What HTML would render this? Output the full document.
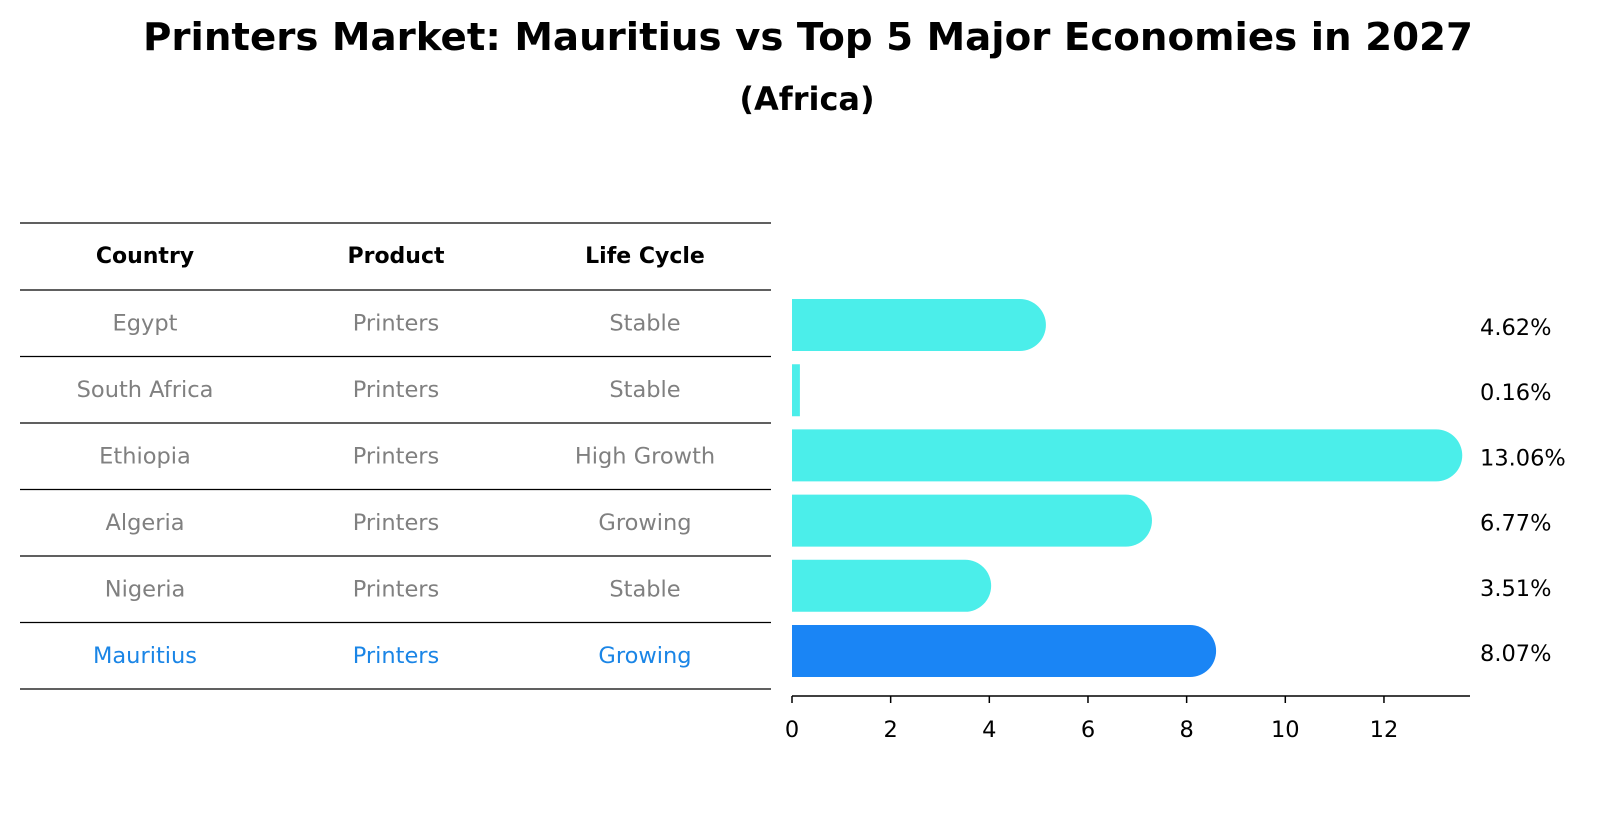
<!DOCTYPE html>
<html><head><meta charset="utf-8"><style>
body{margin:0;background:#fff;}
svg text{font-family:"DejaVu Sans","Liberation Sans",sans-serif;}
</style></head><body>
<svg width="1604" height="823" xmlns="http://www.w3.org/2000/svg">
<text x="808" y="50" text-anchor="middle" font-size="38" font-weight="bold" textLength="1330" lengthAdjust="spacingAndGlyphs">Printers Market: Mauritius vs Top 5 Major Economies in 2027</text>
<text x="807" y="110" text-anchor="middle" font-size="32" font-weight="bold">(Africa)</text>
<g id="table"></g>
<g id="bars"></g>
<g id="axis"></g>
</svg>
<script>
const countries=["Egypt","South Africa","Ethiopia","Algeria","Nigeria","Mauritius"];
const products=["Printers","Printers","Printers","Printers","Printers","Printers"];
const lifecycles=["Stable","Stable","High Growth","Growing","Stable","Growing"];
const values=[4.62,0.16,13.06,6.77,3.51,8.07];
const ticks=[0,2,4,6,8,10,12];
const NS="http://www.w3.org/2000/svg";
const x0=792, pxPerUnit=49.33;
function xs(v){return x0+v*pxPerUnit;}
function ys(i){return 325+i*65.2;}
function mk(tag,attrs,parent,text){const e=document.createElementNS(NS,tag);for(const k in attrs)e.setAttribute(k,attrs[k]);if(text!==undefined)e.textContent=text;parent.appendChild(e);return e;}
const table=document.getElementById('table');
const lineYs=[223,290,356.5,423,489.5,556,622.5,689];
lineYs.forEach((y)=>{const l=mk('line',{x1:20,x2:771,y1:y,y2:y,stroke:'#000','stroke-width':1.2},table);

});
const colX=[145,396,645];
["Country","Product","Life Cycle"].forEach((h,j)=>{const t=mk('text',{x:colX[j],y:263,'text-anchor':'middle','font-size':22,'font-weight':'bold'},table,h);

});
countries.forEach((c,i)=>{const col=i===countries.length-1?'#1a85e6':'#808080';
[c,products[i],lifecycles[i]].forEach((v,j)=>{const t=mk('text',{x:colX[j],y:(lineYs[i+1]+lineYs[i+2])/2+7,'text-anchor':'middle','font-size':22.5,fill:col},table,v);

});});
const bars=document.getElementById('bars');
values.forEach((v,i)=>{const h=52,cy=ys(i),top=cy-h/2,xe=xs(v);const r=(xe-x0)>26?26:0;
const col=i===values.length-1?'#1a85f5':'#4beeea';
const d=r?`M${x0},${top} L${xe},${top} A${r},${h/2} 0 0 1 ${xe},${top+h} L${x0},${top+h} Z`:`M${x0},${top}h${xe-x0}v${h}h${-(xe-x0)}Z`;
const p=mk('path',{d:d,fill:col},bars);


const t=mk('text',{x:1480,y:cy+10,'font-size':22.5},bars,v.toFixed(2)+'%');

});
const axis=document.getElementById('axis');
const al=mk('line',{x1:x0,x2:1470,y1:696,y2:696,stroke:'#000','stroke-width':1.5},axis);


ticks.forEach(t=>{const l=mk('line',{x1:xs(t),x2:xs(t),y1:696,y2:703,stroke:'#000','stroke-width':1.5},axis);


const tx=mk('text',{x:xs(t),y:737,'text-anchor':'middle','font-size':22.5},axis,String(t));

});
</script>
</body></html>
